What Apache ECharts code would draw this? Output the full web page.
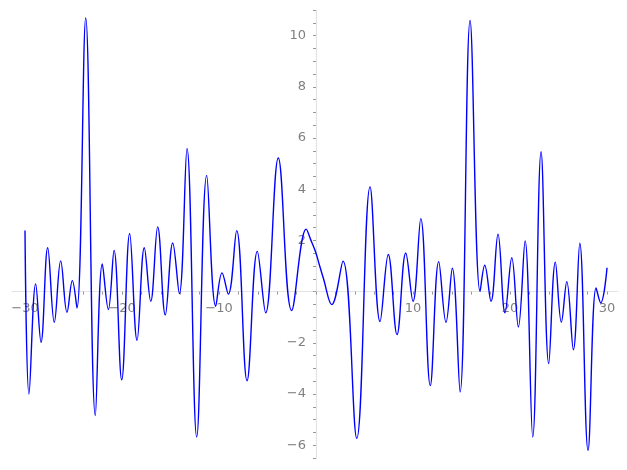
<!DOCTYPE html>
<html><head><meta charset="utf-8">
<script src="https://cdn.jsdelivr.net/npm/echarts@6/dist/echarts.min.js"></script>
<style>html,body{margin:0;padding:0;background:#fff}#c{width:627px;height:470px}</style>
</head><body><div id="c"></div>
<script>
// curve samples (extrema and a few shoulder points)
const xValues = [-30, -29.59, -28.9, -28.35, -27.66, -26.98, -26.32, -25.67, -25.12, -24.64,
  -23.74, -22.75, -22.03, -21.41, -20.82, -20.03, -19.21, -18.45, -17.70, -17.04,
  -16.32, -15.54, -14.77, -14.09, -13.30, -12.30, -11.27, -10.34, -9.69, -9.04,
  -8.18, -7.11, -6.05, -5.19, -3.89, -2.51, -1.01, -0.55, -0.05, 0.34, 0.75,
  1.62, 2.78, 4.20, 5.57, 6.60, 7.45, 8.35, 9.25, 10.00, 10.80,
  11.78, 12.65, 13.40, 14.05, 14.85, 15.88, 16.91, 17.39, 18.04, 18.76,
  19.48, 20.18, 20.86, 21.55, 22.34, 23.20, 23.99, 24.67, 25.29, 25.85,
  26.53, 27.19, 28.04, 28.87, 29.35, 30];
const yValues = [2.39, -4.00, 0.30, -1.98, 1.71, -1.20, 1.20, -0.81, 0.43, -0.64,
  10.69, -4.84, 1.08, -0.70, 1.61, -3.45, 2.27, -1.90, 1.71, -0.38,
  2.53, -0.91, 1.90, -0.08, 5.59, -5.68, 4.54, -0.57, 0.73, -0.10,
  2.38, -3.48, 1.57, -0.83, 5.22, -0.74, 2.44, 2.03, 1.56, 1.05, 0.53,
  -0.51, 1.19, -5.73, 4.09, -1.17, 1.45, -1.68, 1.51, -0.38, 2.85,
  -3.67, 1.17, -1.20, 0.91, -3.92, 10.59, 0.00, 1.03, -0.38, 2.24,
  -0.83, 1.32, -1.38, 1.98, -5.68, 5.46, -2.81, 1.15, -1.20, 0.39,
  -2.27, 1.89, -6.20, 0.14, -0.44, 0.93];
const xTickLabels = [-30, -20, -10, 10, 20, 30];
const yTickLabels = [-6, -4, -2, 2, 4, 6, 8, 10];
const xTickMarks = [-30, -28, -26, -24, -22, -20, -18, -16, -14, -12, -10, -8, -6, -4, -2, 0,
  2, 4, 6, 8, 10, 12, 14, 16, 18, 20, 22, 24, 26, 28, 30];
const yTickMarks = [-6.5, -6, -5.5, -5, -4.5, -4, -3.5, -3, -2.5, -2, -1.5, -1, -0.5, 0,
  0.5, 1, 1.5, 2, 2.5, 3, 3.5, 4, 4.5, 5, 5.5, 6, 6.5, 7, 7.5, 8, 8.5, 9, 9.5, 10, 10.5, 11];

const X_MIN = -31.34, X_MAX = 31.13, Y_MIN = -6.5, Y_MAX = 11;
const G_LEFT = 12, G_TOP = 10, G_W = 606, G_H = 448;
// offsets that move the axes onto the zero lines (layout only)
const yAxisOffset = -G_W * (0 - X_MIN) / (X_MAX - X_MIN);
const xAxisOffset = -G_H * (0 - Y_MIN) / (Y_MAX - Y_MIN);

const points = xValues.map((x, i) => [x, yValues[i]]);
const fmt = v => (v < 0 ? '\u2212' : '') + Math.abs(v);
const labelStyle = { color: '#808080', fontFamily: 'DejaVu Sans', fontSize: 13 };

const chart = echarts.init(document.getElementById('c'), null, { renderer: 'canvas' });
chart.setOption({
  animation: false,
  backgroundColor: '#ffffff',
  grid: { left: G_LEFT, top: G_TOP, width: G_W, height: G_H, containLabel: false, outerBoundsMode: 'none' },
  xAxis: {
    type: 'value', min: X_MIN, max: X_MAX, position: 'bottom', offset: xAxisOffset,
    splitLine: { show: false },
    axisLine: { onZero: false, lineStyle: { color: '#e3e3e3', width: 1.2 } },
    axisTick: { show: true, customValues: xTickMarks, length: 3, lineStyle: { color: '#999999', width: 1 } },
    axisLabel: Object.assign({ customValues: xTickLabels, formatter: fmt, margin: 11 }, labelStyle)
  },
  yAxis: {
    type: 'value', min: Y_MIN, max: Y_MAX, position: 'left', offset: yAxisOffset,
    splitLine: { show: false },
    axisLine: { onZero: false, lineStyle: { color: '#e3e3e3', width: 1.2 } },
    axisTick: { show: true, customValues: yTickMarks, length: 3, lineStyle: { color: '#999999', width: 1 } },
    axisLabel: Object.assign({ customValues: yTickLabels, formatter: fmt, margin: 10 }, labelStyle)
  },
  series: [{
    type: 'line', data: points, smooth: 0.4, showSymbol: false, symbol: 'none',
    lineStyle: { color: '#0000ff', width: 1.4 }, z: 3
  }]
});
</script></body></html>
